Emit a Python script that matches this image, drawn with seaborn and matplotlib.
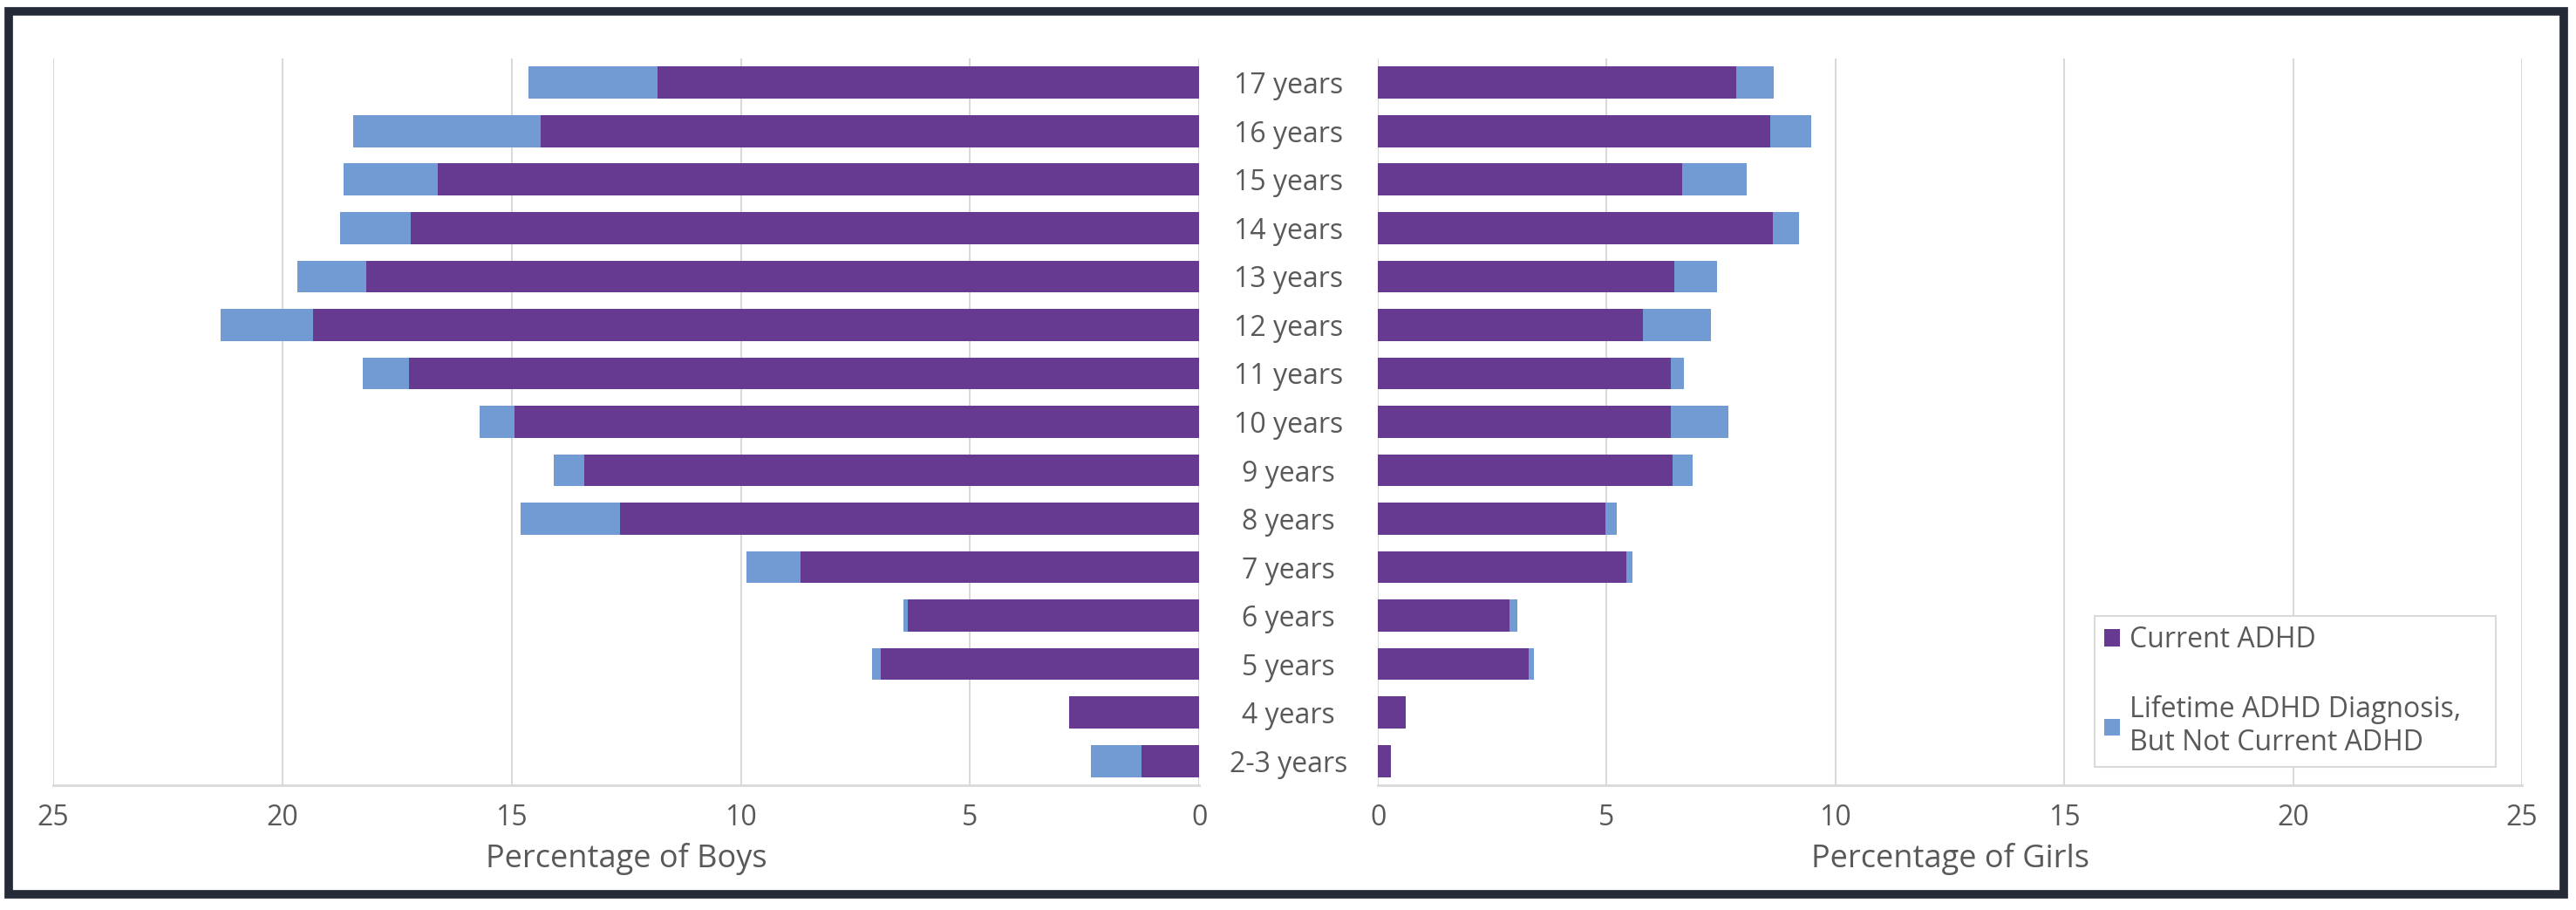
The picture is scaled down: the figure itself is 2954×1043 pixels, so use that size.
import matplotlib

matplotlib.use("Agg")
import matplotlib.pyplot as plt
import pandas as pd
import seaborn as sns
from matplotlib.patches import Patch, Rectangle

# values (percent of children)
AGES = ["17 years", "16 years", "15 years", "14 years", "13 years", "12 years", "11 years",
        "10 years", "9 years", "8 years", "7 years", "6 years", "5 years", "4 years", "2-3 years"]
BOYS_CURRENT = [11.82, 14.37, 16.61, 17.20, 18.18, 19.33, 17.24, 14.94, 13.42, 12.63, 8.69, 6.36, 6.95, 2.84, 1.26]
BOYS_LIFETIME_ONLY = [2.81, 4.09, 2.06, 1.54, 1.50, 2.02, 1.01, 0.76, 0.67, 2.18, 1.19, 0.10, 0.19, 0.0, 1.10]
GIRLS_CURRENT = [7.83, 8.57, 6.65, 8.64, 6.47, 5.80, 6.40, 6.40, 6.44, 4.97, 5.43, 2.87, 3.30, 0.61, 0.28]
GIRLS_LIFETIME_ONLY = [0.82, 0.90, 1.40, 0.57, 0.95, 1.48, 0.29, 1.25, 0.44, 0.25, 0.14, 0.18, 0.11, 0.0, 0.0]

LEGEND_LABELS = ["Current ADHD", "Lifetime ADHD Diagnosis,\nBut Not Current ADHD"]
X_TICKS = [0, 5, 10, 15, 20, 25]

PURPLE = "#663a91"
BLUE = "#719bd2"
GRID = "#d9d9d9"
TEXT = "#595959"
FRAME = "#242b37"

sns.set_theme(style="white")
plt.rcParams["font.family"] = ["Open Sans", "DejaVu Sans"]

df = pd.DataFrame({
    "age": AGES,
    "boys_current": BOYS_CURRENT,
    "boys_total": [c + l for c, l in zip(BOYS_CURRENT, BOYS_LIFETIME_ONLY)],
    "girls_current": GIRLS_CURRENT,
    "girls_total": [c + l for c, l in zip(GIRLS_CURRENT, GIRLS_LIFETIME_ONLY)],
})

fig = plt.figure(figsize=(29.54, 10.43), dpi=100)
ax_l = fig.add_axes([0.02065, 0.1371, 0.4449, 0.7987])
ax_r = fig.add_axes([0.5349, 0.1371, 0.4441, 0.7987])

FS = 23

for ax, side, label in [(ax_l, "boys", "Percentage of Boys"), (ax_r, "girls", "Percentage of Girls")]:
    # blue = lifetime total, purple current drawn over it -> stacked look
    sns.barplot(data=df, x=f"{side}_total", y="age", order=AGES, color=BLUE,
                width=0.66, linewidth=0, saturation=1, ax=ax)
    sns.barplot(data=df, x=f"{side}_current", y="age", order=AGES, color=PURPLE,
                width=0.66, linewidth=0, saturation=1, ax=ax)
    ax.set_xticks(X_TICKS)
    ax.set_xticklabels([str(t) for t in X_TICKS])
    ax.set_ylim(len(AGES) - 0.5, -0.5)
    ax.grid(axis="x", color=GRID, linewidth=1.5)
    ax.set_axisbelow(True)
    for s in ["top", "left", "right"]:
        ax.spines[s].set_visible(False)
    ax.spines["bottom"].set_color(GRID)
    ax.spines["bottom"].set_linewidth(2)
    ax.tick_params(axis="x", length=0, pad=15, labelsize=FS, labelcolor=TEXT)
    ax.set_xlabel(label, fontsize=FS + 3, color=TEXT, labelpad=9)
    ax.set_ylabel("")

ax_l.set_xlim(25, 0)
ax_r.set_xlim(0, 25)
ax_l.set_yticks([])

# age labels sit in the gap between the two panels
ax_r.tick_params(axis="y", length=0, pad=74, labelsize=FS, labelcolor=TEXT)
for t in ax_r.get_yticklabels():
    t.set_ha("center")

handles = [Patch(facecolor=PURPLE, edgecolor="none"), Patch(facecolor=BLUE, edgecolor="none")]
leg = fig.legend(handles, LEGEND_LABELS, loc="upper left",
                 bbox_to_anchor=(0.8131, 0.0, 0.1558, 0.3231), mode="expand",
                 frameon=True, fancybox=False, framealpha=1, edgecolor=GRID,
                 fontsize=FS, labelcolor=TEXT, borderpad=0.35, labelspacing=1.45,
                 handlelength=0.55, handleheight=0.55, handletextpad=0.35, borderaxespad=0)
leg.get_frame().set_linewidth(1.5)

fig.patches.append(Rectangle((0.0034, 0.0172), 0.9919, 0.9704, transform=fig.transFigure,
                             fill=False, edgecolor=FRAME, linewidth=7))

fig.savefig("out.png", dpi=100, facecolor="white")
